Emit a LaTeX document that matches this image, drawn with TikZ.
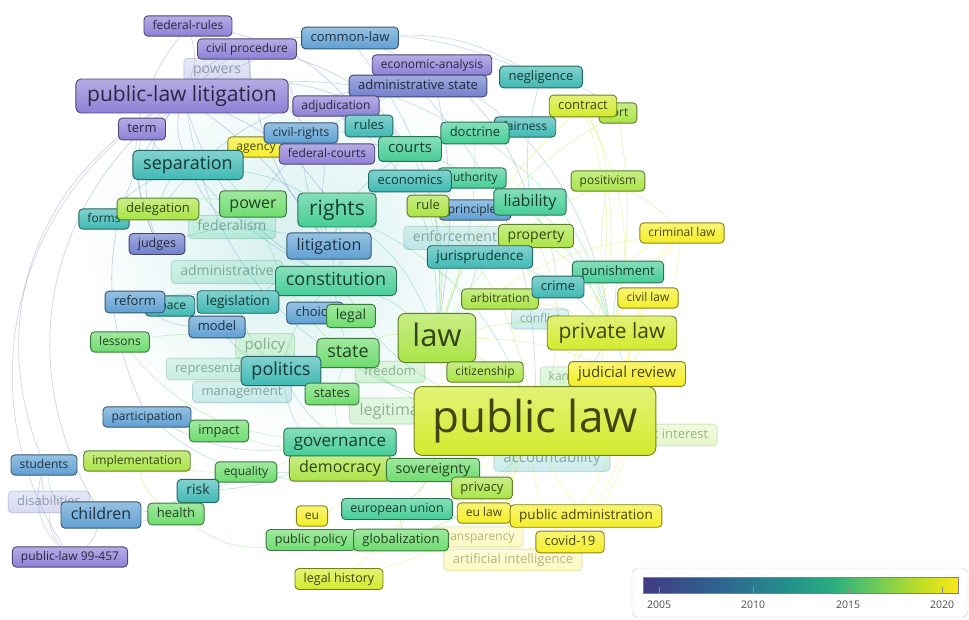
\documentclass[tikz,border=0pt]{standalone}
\usepackage{fontspec}
\setmainfont{Open Sans}
\usepackage{tikz}
\usetikzlibrary{backgrounds}
\usepackage{xcolor}
\definecolor{y05}{RGB}{142,128,214}
\definecolor{y07}{RGB}{112,128,204}
\definecolor{y09}{RGB}{95,160,210}
\definecolor{y11}{RGB}{64,185,180}
\definecolor{y13}{RGB}{70,205,150}
\definecolor{y15}{RGB}{110,220,110}
\definecolor{y17}{RGB}{170,228,70}
\definecolor{y19}{RGB}{210,235,45}
\definecolor{y20}{RGB}{245,238,40}
\tikzset{
  fs/.style={font=\fontsize{#1}{#1}\selectfont, inner xsep={(5+0.3*#1)*1pt}, inner ysep={(1+0.3*#1)*1pt}, text height={0.72*#1pt}, text depth={0.2*#1pt}},
  kw/.style={rectangle, rounded corners=4pt, draw=#1!55!black, line width=0.9pt, top color=#1!65!white, bottom color=#1, text=#1!30!black, fs=12},
  faded/.style={kw=#1, fill opacity=0.28, draw opacity=0.2, text opacity=0.4},
  link/.style={draw=#1, draw opacity=0.4, line width=0.6pt}
}
\pgfdeclarehorizontalshading{viridis}{100bp}{rgb(0bp)=(0.25,0.23,0.52); rgb(25bp)=(0.25,0.23,0.52); rgb(37.5bp)=(0.18,0.40,0.56); rgb(47.5bp)=(0.14,0.56,0.55); rgb(55bp)=(0.16,0.68,0.50); rgb(62.5bp)=(0.45,0.80,0.33); rgb(69bp)=(0.75,0.87,0.15); rgb(75bp)=(0.98,0.91,0.1); rgb(100bp)=(0.98,0.91,0.1)}

\begin{document}
\begin{tikzpicture}[x=1pt, y=-1pt]
    \useasboundingbox (0,0) rectangle (969,619);

    % faded terms
    \node[faded=y07, fs=14] (powers) at (217,70) {powers};
    \node[faded=y13, fs=14] (federalism) at (232,227) {federalism};
    \node[faded=y13, fs=14] (administrative) at (227,272) {administrative};
    \node[faded=y11, fs=14] (enforcement) at (455,238) {enforcement};
    \node[faded=y11] (conflict) at (540,319) {conflict};
    \node[faded=y15, fs=15] (policy) at (265,346) {policy};
    \node[faded=y13, fs=13] (representation) at (220,369) {representation};
    \node[faded=y15, fs=13] (freedom) at (390,372) {freedom};
    \node[faded=y11, fs=13] (management) at (242,392) {management};
    \node[faded=y15, fs=16] (legitimacy) at (397,411) {legitimacy};
    \node[faded=y15] (kant) at (561,377) {kant};
    \node[faded=y17, fs=13] (publicinterest) at (665,435) {public interest};
    \node[faded=y11, fs=15] (accountability) at (552,459) {accountability};
    \node[faded=y20] (transparency) at (478,537) {transparency};
    \node[faded=y20, fs=13] (ai) at (513,560) {artificial intelligence};
    \node[faded=y07, fs=13] (disabilities) at (49,502) {disabilities};

    % partly hidden terms
    \node[kw=y17] (tort) at (618,113) {tort};
    \node[kw=y11] (fairness) at (525,127) {fairness};
    \node[kw=y20] (agency) at (256,147) {agency};
    \node[kw=y13] (authority) at (472,178) {authority};
    \node[kw=y09] (principles) at (475,210) {principles};
    \node[kw=y11] (forms) at (104,219) {forms};
    \node[kw=y11] (space) at (170,306) {space};
    \node[kw=y09, fs=13] (choice) at (315,313) {choice};
    \node[kw=y17] (arbitration) at (500,299) {arbitration};
    \node[kw=y13, fs=13] (punishment) at (618,272) {punishment};
    \node[kw=y17, fs=14] (property) at (536,236) {property};

    % terms
    \node[kw=y05] (fedrules) at (188,26) {federal-rules};
    \node[kw=y05] (civproc) at (247,49) {civil procedure};
    \node[kw=y09, fs=13] (commonlaw) at (350,38) {common-law};
    \node[kw=y05] (econanalysis) at (432,65) {economic-analysis};
    \node[kw=y07, fs=13] (adminstate) at (418,86) {administrative state};
    \node[kw=y11, fs=13] (negligence) at (541,77) {negligence};
    \node[kw=y05] (adjudication) at (336,106) {adjudication};
    \node[kw=y05, fs=21, rounded corners=5pt] (pllit) at (182,96) {public-law litigation};
    \node[kw=y19, fs=13] (contract) at (583,106) {contract};
    \node[kw=y05, fs=13] (term) at (142,129) {term};
    \node[kw=y09] (civilrights) at (301,133) {civil-rights};
    \node[kw=y11, fs=13] (rules) at (369,126) {rules};
    \node[kw=y13, fs=13] (doctrine) at (475,133) {doctrine};
    \node[kw=y05] (fedcourts) at (327,154) {federal-courts};
    \node[kw=y13, fs=15] (courts) at (410,149) {courts};
    \node[kw=y11, fs=18, rounded corners=5pt] (separation) at (188,165) {separation};
    \node[kw=y11, fs=13] (economics) at (410,181) {economics};
    \node[kw=y17] (positivism) at (608,181) {positivism};
    \node[kw=y15, fs=16] (power) at (253,204) {power};
    \node[kw=y13, fs=21, rounded corners=5pt] (rights) at (337,210) {rights};
    \node[kw=y17, fs=13] (rule) at (428,206) {rule};
    \node[kw=y13, fs=16] (liability) at (530,202) {liability};
    \node[kw=y17, fs=13] (delegation) at (158,209) {delegation};
    \node[kw=y07, fs=12.5] (judges) at (157,244) {judges};
    \node[kw=y09, fs=16] (litigation) at (329,246) {litigation};
    \node[kw=y11, fs=13.5] (jurisprudence) at (480,257) {jurisprudence};
    \node[kw=y20] (criminallaw) at (682,233) {criminal law};
    \node[kw=y13, fs=18, rounded corners=5pt] (constitution) at (336,281) {constitution};
    \node[kw=y11, fs=13] (crime) at (558,287) {crime};
    \node[kw=y20] (civillaw) at (648,298) {civil law};
    \node[kw=y09, fs=13] (reform) at (135,302) {reform};
    \node[kw=y11, fs=13.5] (legislation) at (238,302) {legislation};
    \node[kw=y09, fs=13] (model) at (217,327) {model};
    \node[kw=y15, fs=14] (legal) at (351,316) {legal};
    \node[kw=y17, fs=31, rounded corners=7pt] (lawnode) at (437,338) {law};
    \node[kw=y19, fs=21, rounded corners=5pt] (privatelaw) at (612,333) {private law};
    \node[kw=y15] (lessons) at (120,342) {lessons};
    \node[kw=y15, fs=18, rounded corners=5pt] (state) at (348,353) {state};
    \node[kw=y11, fs=18, rounded corners=5pt] (politics) at (281,371) {politics};
    \node[kw=y17] (citizenship) at (485,372) {citizenship};
    \node[kw=y20, fs=15] (judicialreview) at (627,374) {judicial review};
    \node[kw=y15, fs=13] (states) at (332,394) {states};
    \node[kw=y09] (participation) at (147,417) {participation};
    \node[kw=y15, fs=13] (impact) at (219,431) {impact};
    \node[kw=y17, fs=16] (democracy) at (340,468) {democracy};
    \node[kw=y13, fs=17] (governance) at (340,442) {governance};
    \node[kw=y15, fs=14] (sovereignty) at (433,470) {sovereignty};
    \node[kw=y19, fs=44, rounded corners=8pt] (publiclaw) at (535,421) {public law};
    \node[kw=y09] (students) at (44,465) {students};
    \node[kw=y17] (implementation) at (137,461) {implementation};
    \node[kw=y15] (equality) at (246,472) {equality};
    \node[kw=y11, fs=14] (risk) at (198,491) {risk};
    \node[kw=y17, fs=13] (privacy) at (482,488) {privacy};
    \node[kw=y13, fs=12.5] (europeanunion) at (397,509) {european union};
    \node[kw=y20] (eu) at (312,516) {eu};
    \node[kw=y20] (eulaw) at (484,513) {eu law};
    \node[kw=y20, fs=13.5] (publicadmin) at (586,516) {public administration};
    \node[kw=y09, fs=16] (children) at (101,515) {children};
    \node[kw=y15, fs=13] (health) at (176,514) {health};
    \node[kw=y15, fs=12.5] (publicpolicy) at (311,540) {public policy};
    \node[kw=y15, fs=13] (globalization) at (401,540) {globalization};
    \node[kw=y20, fs=13] (covid) at (570,542) {covid-19};
    \node[kw=y05] (pl99) at (70,557) {public-law 99-457};
    \node[kw=y19, fs=12.5] (legalhistory) at (339,579) {legal history};

    % links
    \begin{pgfonlayer}{background}
    \shade[inner color=y11!22!white, outer color=white] (290,250) ellipse (210 and 190);
    \foreach \a/\b/\c/\t in {pllit/courts/y07/20, pllit/rights/y07/15, pllit/constitution/y07/-20,
      pllit/litigation/y07/10, pllit/adjudication/y05/10, pllit/civproc/y05/15, pllit/fedrules/y05/-20,
      pllit/commonlaw/y07/20, pllit/separation/y07/-15, pllit/judges/y07/-25, pllit/term/y05/10,
      pllit/fedcourts/y05/15, pllit/economics/y09/20, pllit/doctrine/y09/15, pllit/negligence/y09/25,
      pllit/publiclaw/y09/-30, pllit/children/y07/-40, pllit/pl99/y05/-45, pllit/students/y07/-40,
      pllit/participation/y07/-30, civproc/litigation/y07/-15, civproc/courts/y07/20,
      fedrules/judges/y07/-30, fedrules/rules/y07/20, commonlaw/lawnode/y09/20, commonlaw/privatelaw/y09/30,
      commonlaw/negligence/y09/15, econanalysis/liability/y07/15, econanalysis/lawnode/y07/10,
      adminstate/power/y09/-15, adminstate/delegation/y09/-20, adminstate/publiclaw/y09/20,
      negligence/tort/y11/10, negligence/liability/y11/-10, contract/privatelaw/y19/20,
      contract/tort/y19/15, contract/publiclaw/y19/25, tort/privatelaw/y17/10,
      separation/power/y11/10, separation/constitution/y11/-10, separation/rights/y11/10,
      separation/delegation/y11/-15, separation/federalism/y11/-10, rights/constitution/y13/10,
      rights/lawnode/y13/15, rights/publiclaw/y13/20, rights/state/y13/-10, courts/lawnode/y13/15,
      courts/constitution/y13/-10, courts/judicialreview/y13/25, doctrine/lawnode/y13/10,
      doctrine/privatelaw/y13/20, liability/privatelaw/y13/15, liability/crime/y13/10,
      positivism/lawnode/y17/-15, positivism/publiclaw/y17/20, criminallaw/lawnode/y19/-15,
      criminallaw/punishment/y19/-10, criminallaw/publiclaw/y19/25, civillaw/privatelaw/y20/10,
      civillaw/publiclaw/y20/20, constitution/lawnode/y13/10, constitution/publiclaw/y13/-15,
      constitution/politics/y13/-15, lawnode/publiclaw/y17/15, lawnode/state/y17/-15,
      lawnode/privatelaw/y17/10, lawnode/judicialreview/y17/10, lawnode/citizenship/y17/-10,
      state/publiclaw/y15/-10, state/governance/y15/-15, politics/governance/y11/-10,
      politics/democracy/y11/-20, politics/policy/y11/10, legislation/constitution/y11/10,
      legislation/politics/y11/-15, reform/legislation/y09/10, reform/model/y09/-15,
      model/politics/y09/-10, lessons/policy/y15/10, lessons/governance/y15/-20,
      participation/governance/y09/-15, participation/democracy/y09/-20, impact/governance/y15/-10,
      students/implementation/y09/15, students/children/y09/-25, students/disabilities/y09/-15,
      implementation/governance/y17/-15, implementation/health/y17/-20, children/risk/y09/-10,
      children/health/y09/-10, children/disabilities/y09/10, pl99/children/y05/-20,
      pl99/disabilities/y05/20, pl99/students/y05/30, risk/equality/y11/-10, risk/governance/y11/-15,
      equality/democracy/y15/-10, health/publicpolicy/y15/-20, publicpolicy/globalization/y15/-10,
      globalization/europeanunion/y15/-10, globalization/publiclaw/y15/-20,
      europeanunion/sovereignty/y13/-10, europeanunion/eulaw/y13/-10, eu/europeanunion/y20/10,
      eu/publiclaw/y20/-20, eulaw/publiclaw/y20/-10, publicadmin/publiclaw/y20/10,
      covid/publicadmin/y20/10, covid/publiclaw/y20/20, ai/publiclaw/y20/15,
      legalhistory/lawnode/y19/-30, legalhistory/publiclaw/y19/-25, privacy/publiclaw/y17/-10,
      sovereignty/publiclaw/y15/-10, democracy/publiclaw/y17/-15, judicialreview/publiclaw/y20/10,
      privatelaw/publiclaw/y19/15, publicinterest/publiclaw/y17/10, jurisprudence/lawnode/y11/10,
      jurisprudence/privatelaw/y11/15, arbitration/privatelaw/y17/10, property/privatelaw/y17/15,
      punishment/crime/y13/10, economics/lawnode/y11/10, economics/liability/y11/10,
      rule/lawnode/y17/10, rule/publiclaw/y17/15, power/publiclaw/y15/-25, power/delegation/y15/-10,
      litigation/courts/y09/15, litigation/judges/y09/-15, term/separation/y05/-10,
      term/judges/y05/-15, forms/separation/y11/10, forms/delegation/y11/10,
      civilrights/litigation/y09/-10, civilrights/courts/y09/10, fedcourts/courts/y05/10,
      fedcourts/litigation/y05/-10, adjudication/courts/y05/15, rules/courts/y11/10,
      criminallaw/privatelaw/y20/-10, positivism/privatelaw/y17/-10, civillaw/judicialreview/y20/-10,
      criminallaw/judicialreview/y20/-15, contract/lawnode/y19/-15, publicinterest/judicialreview/y17/15,
      covid/judicialreview/y20/-25, positivism/criminallaw/y17/10, tort/lawnode/y17/-20,
      publicadmin/judicialreview/y20/-20, ai/judicialreview/y20/-25, property/publiclaw/y17/20,
      contract/positivism/y19/10, civillaw/crime/y20/10, punishment/publiclaw/y13/20}
      \draw[link=\c] (\a) to[bend left=\t] (\b);
    \end{pgfonlayer}

    % Legend
    \draw[rounded corners=6pt, draw=black!20, fill=white] (632,568) rectangle (968,617);
    \shade[shading=viridis] (643,577) rectangle (958,593);
    \draw[black!50, line width=0.4pt] (643,577) rectangle (958,593);
    \foreach \yr/\xx in {2005/659, 2010/753, 2015/848, 2020/942} {
        \draw[black!45] (\xx,587) -- (\xx,593);
        \node[font=\fontsize{10.5}{10.5}\selectfont, text=black!70, inner sep=1pt] (lbl\yr) at (\xx,605) {\yr};
    }
\end{tikzpicture}
\end{document}
